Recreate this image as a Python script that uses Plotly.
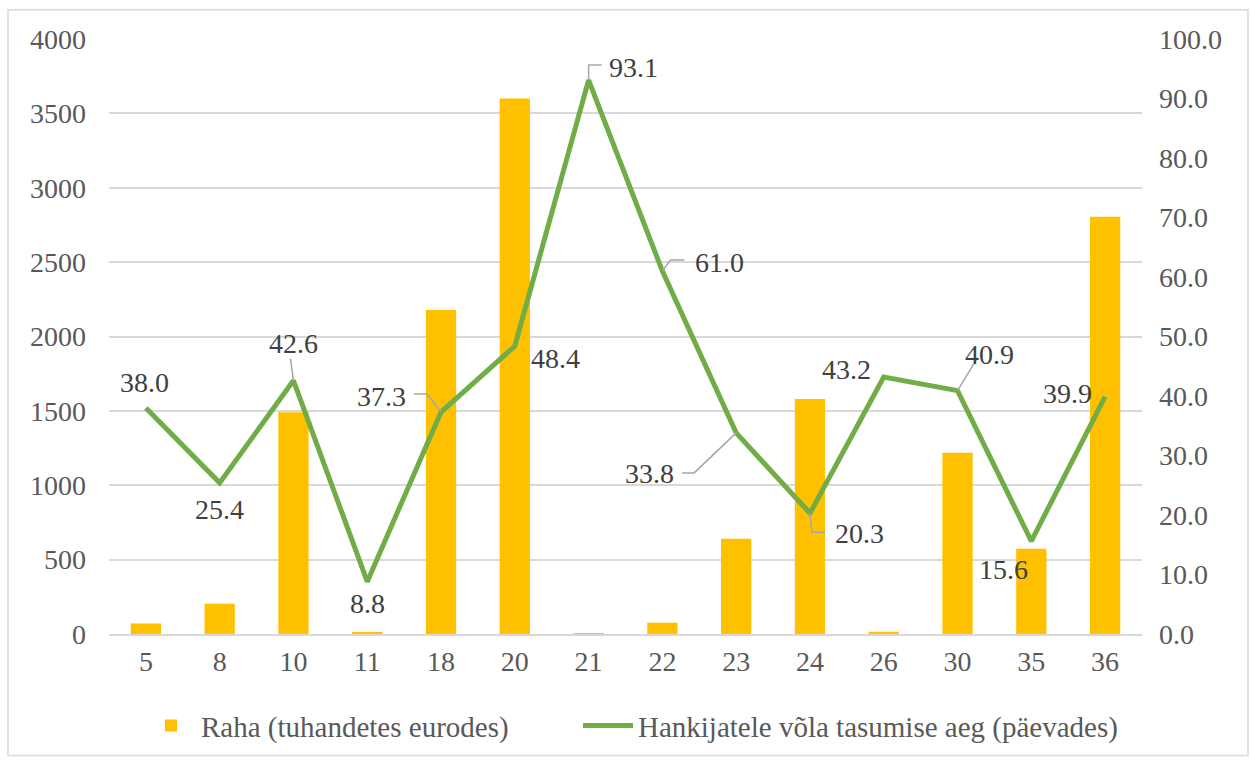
import plotly.graph_objects as go

categories = ["5", "8", "10", "11", "18", "20", "21", "22", "23", "24", "26", "30", "35", "36"]
raha = [71, 204, 1490, 13, 2178, 3600, 5, 76, 640, 1580, 15, 1218, 573, 2805]
paevad = [38.0, 25.4, 42.6, 8.8, 37.3, 48.4, 93.1, 61.0, 33.8, 20.3, 43.2, 40.9, 15.6, 39.9]
left_ticks = [0, 500, 1000, 1500, 2000, 2500, 3000, 3500, 4000]
right_ticks = [0, 10, 20, 30, 40, 50, 60, 70, 80, 90, 100]
bar_name = "Raha (tuhandetes eurodes)"
line_name = "Hankijatele võla tasumise aeg (päevades)"

# label offsets in screen pixels (dx, dy; dy positive = down)
label_off = [(-1, -25), (0, 27), (0, -37), (0, 22), (-60, -16), (41, 12), (45, -13),
             (57, -9), (-87, 41), (50, 20), (-37, -7), (32, -36), (-28, 28), (-38, -3)]
# leader line vertices (screen pixels relative to the point), None = no leader
leaders = [None, None, [(0, 0), (-3, -22)], None, [(0, 0), (-14, -18), (-27, -18)], None,
           [(0, 0), (0, -15), (13, -15)], [(0, 0), (8, -11), (22, -11)],
           [(0, 0), (-42, 40), (-54, 40)], [(0, 0), (2, 19), (15, 19)], None,
           [(0, 0), (20, -33)], None, None]

FONT = "Liberation Serif"
fig = go.Figure()
fig.add_trace(go.Bar(x=categories, y=raha, name=bar_name, marker_color="#FFC000",
                     marker_line_width=0, yaxis="y", legend="legend"))
fig.add_trace(go.Scatter(x=categories, y=paevad, name=line_name, mode="lines",
                         line=dict(color="#70AD47", width=5), yaxis="y2", legend="legend2"))

annotations = []
shapes = []
for i, (val, (dx, dy), ld) in enumerate(zip(paevad, label_off, leaders)):
    annotations.append(dict(x=i, y=val, xref="x", yref="y2", text=f"{val:.1f}",
                            showarrow=False, xshift=dx, yshift=-dy,
                            font=dict(family=FONT, size=28, color="#404040")))
    if ld:
        path = "M" + " L".join(f"{px},{-py}" for px, py in ld)
        shapes.append(dict(type="path", xref="x", yref="y2", xsizemode="pixel",
                           ysizemode="pixel", xanchor=i, yanchor=val, path=path,
                           line=dict(color="#A6A6A6", width=1.5), layer="above"))

shapes.append(dict(type="rect", xref="paper", yref="paper",
                   x0=-0.0978, x1=1.1026, y0=-0.204, y1=1.0493,
                   line=dict(color="#D9D9D9", width=1.5), fillcolor="rgba(0,0,0,0)", layer="below"))

legend_common = dict(orientation="h", xanchor="left", y=-0.154, yanchor="middle",
                     font=dict(family=FONT, size=29, color="#595959"), itemwidth=50,
                     bgcolor="rgba(0,0,0,0)")

fig.update_layout(
    width=1251, height=760,
    margin=dict(l=109, r=109, t=39, b=126, autoexpand=False),
    paper_bgcolor="white", plot_bgcolor="white",
    font=dict(family=FONT, size=28, color="#595959"),
    bargap=0.59,
    showlegend=True,
    legend=dict(x=0.031, **legend_common),
    legend2=dict(x=0.454, **legend_common),
    xaxis=dict(type="category", range=[-0.5, len(categories) - 0.5], showgrid=False,
               showline=True, linecolor="#D9D9D9",
               linewidth=1.5, ticks="", ticklabelstandoff=2,
               tickfont=dict(family=FONT, size=28, color="#595959")),
    yaxis=dict(range=[0, 4000], tickvals=left_ticks, showgrid=True, gridcolor="#D9D9D9",
               gridwidth=1.5, zeroline=False, showline=False, ticks="",
               ticklabelstandoff=22,
               tickfont=dict(family=FONT, size=28, color="#595959")),
    yaxis2=dict(range=[0, 100], tickvals=right_ticks, tickformat=".1f", overlaying="y",
                side="right", showgrid=False, zeroline=False, showline=False, ticks="",
                ticklabelstandoff=16,
                tickfont=dict(family=FONT, size=28, color="#595959")),
    annotations=annotations,
    shapes=shapes,
)

fig.write_html("out.html")
